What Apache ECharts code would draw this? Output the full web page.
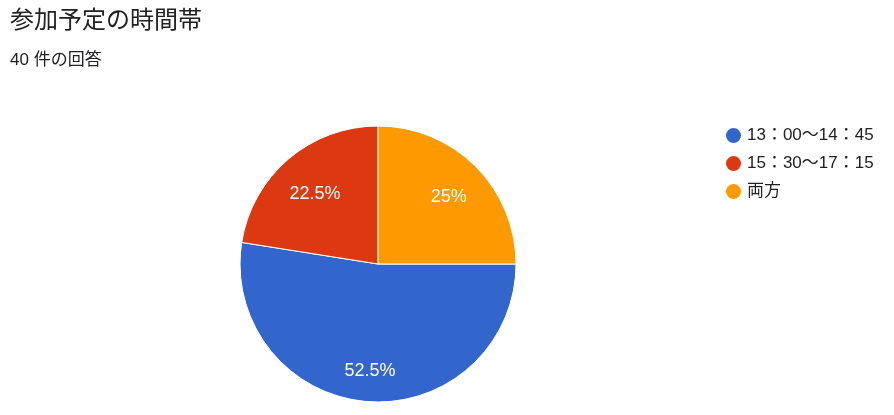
<!DOCTYPE html>
<html><head><meta charset="utf-8">
<script src="https://cdn.jsdelivr.net/npm/echarts@6/dist/echarts.min.js"></script>
<style>html,body{margin:0;padding:0;background:#fff}#c{width:894px;height:415px}</style>
</head><body><div id="c"></div>
<script>
const titleText = '参加予定の時間帯';
const subText = '40 件の回答';
const categories = ['13：00〜14：45', '15：30〜17：15', '両方'];
const counts = [21, 9, 10];
const colors = ['#3366cc', '#dc3912', '#ff9900'];

const chart = echarts.init(document.getElementById('c'));
const font = '"Liberation Sans", Arial, "Noto Sans CJK JP", sans-serif';
const labelOffsets = [[0, 4], [4, 8], [-2, 6]];
const data = categories.map((n, i) => ({ name: n, value: counts[i], itemStyle: { color: colors[i] } }));
chart.setOption({
  animation: false,
  title: {
    text: titleText, subtext: subText, left: 5, top: 4, itemGap: 19,
    textStyle: { fontFamily: font, fontSize: 24, fontWeight: 'normal', color: '#202124' },
    subtextStyle: { fontFamily: font, fontSize: 17, color: '#202124' }
  },
  legend: {
    orient: 'vertical', left: 719, top: 121, itemGap: 9, icon: 'circle',
    itemWidth: 17, itemHeight: 17, data: categories,
    textStyle: { fontFamily: font, fontSize: 17, color: '#222' }
  },
  series: [
    {
      type: 'pie', center: [378, 264], radius: [0, 138], startAngle: 0, clockwise: true,
      itemStyle: { borderColor: '#fff', borderWidth: 1 },
      label: { show: false }, labelLine: { show: false }, emphasis: { disabled: true },
      data: data
    },
    {
      type: 'pie', center: [378, 264], radius: [62, 138], startAngle: 0, clockwise: true, silent: true,
      itemStyle: { color: 'rgba(0,0,0,0)' },
      label: { show: true, position: 'inside', formatter: '{d}%', color: '#fff', fontFamily: font, fontSize: 18 },
      labelLine: { show: false }, emphasis: { disabled: true },
      data: categories.map((n, i) => ({ name: n, value: counts[i], itemStyle: { color: 'rgba(0,0,0,0)' }, label: { offset: labelOffsets[i] } }))
    }
  ]
});
</script></body></html>
